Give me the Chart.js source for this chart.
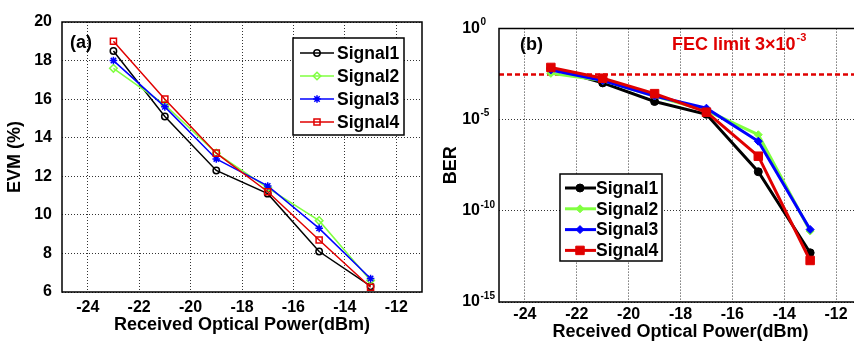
<!DOCTYPE html>
<html>
<head>
<meta charset="utf-8">
<script src="https://cdn.jsdelivr.net/npm/chart.js@4.4.0/dist/chart.umd.min.js"></script>
<style>
  html, body { margin: 0; background: #fff; overflow: hidden; width: 854px; height: 341px; }
  #wrapA { position: absolute; left: 0; top: 0; }
  #wrapB { position: absolute; left: 440px; top: 0; width: 414px; height: 341px; overflow: hidden; }
</style>
</head>
<body>
<div id="wrapA"><canvas id="evmChart" width="430" height="341"></canvas></div>
<div id="wrapB"><canvas id="berChart" width="430" height="341"></canvas></div>
<script>
// Received optical power (dBm), shared by both panels
const power = [-23, -21, -19, -17, -15, -13];

// (a) EVM in %
const evm1 = [18.5, 15.1, 12.3, 11.1, 8.1, 6.3];
const evm2 = [17.6, 15.7, 13.2, 11.4, 9.7, 6.6];
const evm3 = [18.0, 15.6, 12.9, 11.5, 9.3, 6.7];
const evm4 = [19.0, 16.0, 13.2, 11.2, 8.7, 6.25];

// (b) BER
const ber1 = [6.6e-3, 1.05e-3, 1.0e-4, 2.0e-5, 1.4e-8, 5.0e-13];
const ber2 = [3.5e-3, 1.4e-3, 2.0e-4, 3.2e-5, 1.5e-6, 7.8e-12];
const ber3 = [5.4e-3, 1.4e-3, 2.0e-4, 4.3e-5, 6.6e-7, 9.5e-12];
const ber4 = [7.4e-3, 1.9e-3, 2.7e-4, 2.6e-5, 1.0e-7, 1.9e-13];
const fecLimit = 3e-3;

const signalNames = ['Signal1', 'Signal2', 'Signal3', 'Signal4'];
const powerTicks = [-24, -22, -20, -18, -16, -14, -12];
const evmTicks = [6, 8, 10, 12, 14, 16, 18, 20];
const berTicks = [1e-15, 1e-10, 1e-5, 1];
const powerMin = -25, powerMax = -11;

const colors = ['#000000', '#80ff40', '#0000ff', '#e00000'];
const FONT = '"Liberation Sans", Arial, sans-serif';

function toPoints(ys) {
  return power.map((p, i) => ({ x: p, y: ys[i] }));
}

// box around the plot area (right side optional, panel b is cut off there)
const frame = {
  id: 'frame',
  afterDatasetsDraw(chart, args, opts) {
    const a = chart.chartArea, ctx = chart.ctx;
    ctx.save();
    ctx.strokeStyle = '#000';
    ctx.lineWidth = 1.5;
    ctx.beginPath();
    ctx.moveTo(a.right, a.top);
    ctx.lineTo(a.left, a.top);
    ctx.lineTo(a.left, a.bottom);
    ctx.lineTo(a.right, a.bottom);
    if (!opts.openRight) ctx.closePath();
    ctx.stroke();
    ctx.restore();
  }
};

// legend box, panel label, FEC note, exponents
const overlay = {
  id: 'overlay',
  afterDraw(chart, args, o) {
    const ctx = chart.ctx;
    ctx.save();
    ctx.fillStyle = '#000';
    ctx.font = 'bold 18px ' + FONT;
    ctx.textBaseline = 'middle';
    ctx.textAlign = 'left';
    ctx.fillText(o.panel, o.panelX, o.panelY);

    // exponent of the 10^n tick labels
    if (o.expX) {
      const ys = chart.scales.y;
      ctx.font = 'bold 10px ' + FONT;
      ys.ticks.forEach(t => {
        const e = String(Math.round(Math.log10(t.value)));
        ctx.fillText(e, o.expX, ys.getPixelForValue(t.value) - 6);
      });
    }

    if (o.fec) {
      ctx.fillStyle = '#e00000';
      ctx.font = 'bold 18px ' + FONT;
      ctx.fillText('FEC limit 3×10', o.fec.x, o.fec.y);
      const w = ctx.measureText('FEC limit 3×10').width;
      ctx.font = 'bold 11px ' + FONT;
      ctx.fillText('-3', o.fec.x + w + 1, o.fec.y - 7);
    }

    // legend
    const L = o.legend;
    ctx.fillStyle = '#fff';
    ctx.fillRect(L.x, L.y, L.w, L.h);
    ctx.strokeStyle = '#000';
    ctx.lineWidth = 1.5;
    ctx.strokeRect(L.x, L.y, L.w, L.h);
    chart.data.datasets.filter(d => d.label).sort((a, b) => a.idx - b.idx).forEach((d, i) => {
      const y = L.rowY + i * L.rowGap;
      ctx.strokeStyle = d.borderColor;
      ctx.lineWidth = d.borderWidth;
      ctx.beginPath();
      ctx.moveTo(L.lineX0, y);
      ctx.lineTo(L.lineX1, y);
      ctx.stroke();
      ctx.fillStyle = d.pointBackgroundColor;
      ctx.strokeStyle = d.pointBorderColor;
      ctx.lineWidth = d.pointBorderWidth;
      Chart.helpers.drawPoint(ctx, {
        pointStyle: d.pointStyle, radius: d.pointRadius, rotation: 0, borderWidth: d.pointBorderWidth
      }, L.markX, y);
      ctx.fillStyle = '#000';
      ctx.font = 'bold 17.5px ' + FONT;
      ctx.textBaseline = 'middle';
      ctx.fillText(d.label, L.textX, y + 1);
    });
    ctx.restore();
  }
};

function axisFont(size) {
  return { family: FONT, size: size, weight: 'bold' };
}

// ---- (a) EVM panel ----
const evmSeries = [evm1, evm2, evm3, evm4];
const evmStyles = ['circle', 'rectRot', 'star', 'rect'];
const evmRadius = [3.2, 3.8, 3.8, 4.3];

new Chart(document.getElementById('evmChart'), {
  type: 'line',
  data: {
    datasets: evmSeries.map((ys, i) => ({
      label: signalNames[i],
      idx: i,
      order: 3 - i,
      data: toPoints(ys),
      borderColor: colors[i],
      borderWidth: 1.5,
      pointStyle: evmStyles[i],
      pointRadius: evmRadius[i],
      pointBackgroundColor: i === 2 ? colors[i] : 'rgba(255,255,255,0)',
      pointBorderColor: colors[i],
      pointBorderWidth: 1.5,
      tension: 0
    }))
  },
  options: {
    responsive: false,
    animation: false,
    events: [],
    layout: { padding: { top: 22, right: 8, left: 0, bottom: 0 } },
    plugins: {
      legend: { display: false },
      tooltip: { enabled: false },
      frame: { openRight: false },
      overlay: {
        panel: '(a)', panelX: 70, panelY: 43,
        legend: { x: 293, y: 38, w: 111, h: 97, rowY: 53, rowGap: 23, lineX0: 300, lineX1: 334, markX: 317, textX: 337 }
      }
    },
    scales: {
      x: {
        type: 'linear', min: powerMin, max: powerMax,
        afterBuildTicks: s => { s.ticks = powerTicks.map(v => ({ value: v })); },
        afterFit: s => { s.height = 49; },
        grid: { color: '#333', drawTicks: false, lineWidth: 1 },
        border: { display: false, dash: [1, 2] },
        ticks: { color: '#000', font: axisFont(16), padding: 6, maxRotation: 0 },
        title: { display: true, text: 'Received Optical Power(dBm)', color: '#000', font: axisFont(18), padding: { top: 0, bottom: 5 } }
      },
      y: {
        min: 6, max: 20,
        afterBuildTicks: s => { s.ticks = evmTicks.map(v => ({ value: v })); },
        afterFit: s => { s.width = 62; },
        grid: { color: '#333', drawTicks: false, lineWidth: 1 },
        border: { display: false, dash: [1, 2] },
        ticks: { color: '#000', font: axisFont(16), padding: 10 },
        title: { display: true, text: 'EVM (%)', color: '#000', font: axisFont(18), padding: { top: 4, bottom: 0 } }
      }
    }
  },
  plugins: [frame, overlay]
});

// ---- (b) BER panel ----
const berSeries = [ber1, ber2, ber3, ber4];
const berStyles = ['circle', 'rectRot', 'rectRot', 'rect'];
const berRadius = [4, 4, 4, 6];

const berDatasets = berSeries.map((ys, i) => ({
  label: signalNames[i],
  idx: i,
  order: 3 - i,
  data: toPoints(ys),
  borderColor: colors[i],
  borderWidth: 3,
  pointStyle: berStyles[i],
  pointRadius: berRadius[i],
  pointBackgroundColor: colors[i],
  pointBorderColor: colors[i],
  pointBorderWidth: 1,
  tension: 0
}));
berDatasets.push({
  label: '',
  order: 10,
  data: [{ x: powerMin, y: fecLimit }, { x: powerMax, y: fecLimit }],
  borderColor: '#e00000',
  borderWidth: 2.5,
  borderDash: [5, 3],
  pointRadius: 0
});

// plot area runs past the right edge of the picture (it is cut off there)
new Chart(document.getElementById('berChart'), {
  type: 'line',
  data: { datasets: berDatasets },
  options: {
    responsive: false,
    animation: false,
    events: [],
    layout: { padding: { top: 21, right: 8, left: 0, bottom: 0 } },
    plugins: {
      legend: { display: false },
      tooltip: { enabled: false },
      frame: { openRight: true },
      overlay: {
        panel: '(b)', panelX: 80, panelY: 45,
        expX: 40.5,
        fec: { x: 232, y: 45 },
        legend: { x: 120, y: 174, w: 102, h: 87, rowY: 188, rowGap: 20.8, lineX0: 125, lineX1: 156, markX: 140, textX: 156 }
      }
    },
    scales: {
      x: {
        type: 'linear', min: powerMin, max: powerMax,
        afterBuildTicks: s => { s.ticks = powerTicks.map(v => ({ value: v })); },
        afterFit: s => { s.height = 39; },
        grid: { color: '#333', drawTicks: false, lineWidth: 1 },
        border: { display: false, dash: [1, 2] },
        ticks: { color: '#000', font: axisFont(16), padding: 3, maxRotation: 0 },
        title: { display: true, text: 'Received Optical Power(dBm)', color: '#000', font: axisFont(18), padding: { top: 0, bottom: -2 } }
      },
      y: {
        type: 'logarithmic', min: 1e-15, max: 1,
        afterBuildTicks: s => { s.ticks = berTicks.map(v => ({ value: v })); },
        afterFit: s => { s.width = 59; },
        grid: { color: '#333', drawTicks: false, lineWidth: 1 },
        border: { display: false, dash: [1, 2] },
        ticks: { color: '#000', font: axisFont(16), padding: 19, callback: () => '10' },
        title: { display: true, text: 'BER', color: '#000', font: axisFont(18), padding: { top: 0, bottom: 0 } }
      }
    }
  },
  plugins: [frame, overlay]
});
</script>
</body>
</html>
